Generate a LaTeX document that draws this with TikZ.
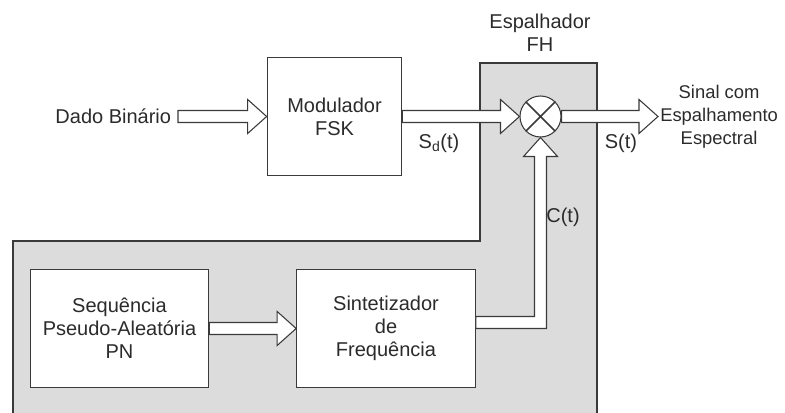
\documentclass[tikz,border=0pt]{standalone}
\usepackage{fontspec}
\setmainfont{Liberation Sans}
\usetikzlibrary{positioning,calc}
\definecolor{Ink}{HTML}{2B2B2B}
\definecolor{Edge}{HTML}{3A3A3A}
\definecolor{Shade}{HTML}{DCDCDC}
\def\shaftw{4.5pt}
\def\headw{12.75pt}
\def\headl{14.25pt}
\newcommand{\fatarrow}[2]{%
  \draw[hollow] let \p1=(#1), \p2=(#2) in
    (\x1,\y1+\shaftw) -- (\x2-\headl,\y1+\shaftw) -- (\x2-\headl,\y1+\headw) -- (\x2,\y1)
    -- (\x2-\headl,\y1-\headw) -- (\x2-\headl,\y1-\shaftw) -- (\x1,\y1-\shaftw) -- cycle;
}
\tikzset{
  block/.style={draw=Edge,fill=white,line width=0.8pt,minimum width=134pt,minimum height=88pt,align=center,inner sep=0pt,font=\fontsize{15pt}{17.25pt}\selectfont,text=Ink},
  lbl/.style={align=center,inner sep=0pt,font=\fontsize{15pt}{17.25pt}\selectfont,text=Ink},
  hollow/.style={draw=Edge,fill=white,line width=0.8pt,line join=miter},
  mixer/.style={circle,draw=Edge,fill=white,line width=0.8pt,minimum size=30.75pt,inner sep=0pt}
}
\begin{document}
\begin{tikzpicture}[x=0.75pt,y=0.75pt]
  \useasboundingbox (0,0) rectangle (785,413);
  \fill[Shade] (13,0) -- (13,172) -- (480,172) -- (480,350) -- (597,350) -- (597,0) -- cycle;
  \draw[Edge,line width=0.8pt] (13,0) -- (13,172) -- (480,172) -- (480,350) -- (597,350) -- (597,0);

  \node[lbl] (spread) at (540,380) {Espalhador\\FH};
  \node[block,minimum width=101pt] (mod) at (334.5,296.5) {Modulador\\FSK};
  \node[mixer] (mix) at (540.5,296.5) {};
  \draw[Edge,line width=1.2pt] (mix.north west) -- (mix.south east) (mix.north east) -- (mix.south west);
  \node[block] (seq) at (119.5,84.5) {Sequência\\Pseudo-Aleatória\\PN};
  \node[block] (synth) at (386,84.5) {Sintetizador\\de\\Frequência};

  \node[lbl,anchor=east,inner xsep=5pt] (data) at (178,296.5) {Dado Binário};
  \node[lbl,anchor=west,inner xsep=1.5pt,font=\fontsize{13.8pt}{17.25pt}\selectfont] (out) at (658,296.5) {Sinal com\\Espalhamento\\Espectral};

  \fatarrow{data.east}{mod.west}
  \fatarrow{mod.east}{mix.west}
  \fatarrow{mix.east}{out.west}
  \fatarrow{seq.east}{synth.west}
  \draw[hollow] let \p1=($(synth.east)+(0,6)$), \p2=(mix.south) in
    (\x1,\y1+\shaftw) -- (\x2-\shaftw,\y1+\shaftw) -- (\x2-\shaftw,\y2-\headl) -- (\x2-\headw,\y2-\headl)
    -- (\x2,\y2) -- (\x2+\headw,\y2-\headl) -- (\x2+\shaftw,\y2-\headl) -- (\x2+\shaftw,\y1-\shaftw)
    -- (\x1,\y1-\shaftw) -- cycle;

  \node[lbl] (sd) at (439,270) {S\textsubscript{d}(t)};
  \node[lbl] (st) at (621,270) {S(t)};
  \node[lbl] (ct) at (563,196) {C(t)};
\end{tikzpicture}
\end{document}
